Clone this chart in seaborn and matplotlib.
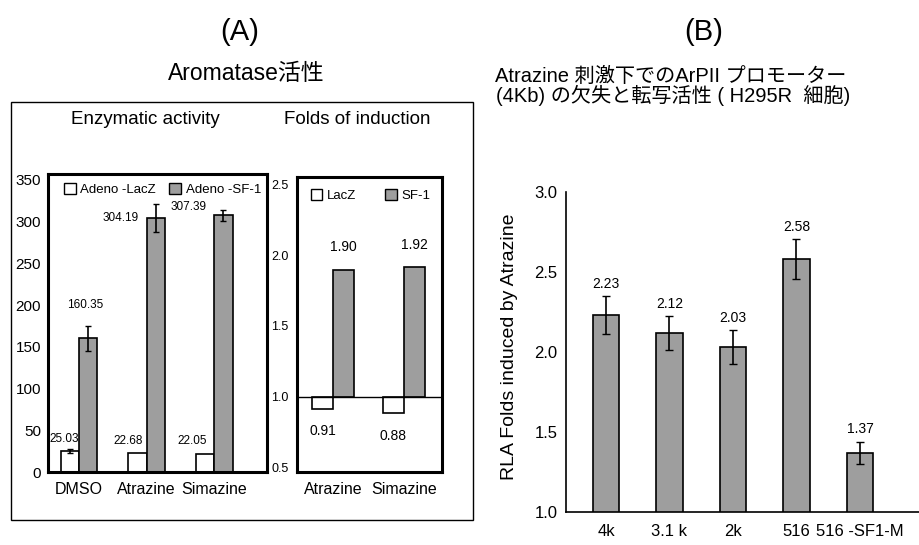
import pandas as pd
import matplotlib.pyplot as plt
import matplotlib.patches as mpatches
import seaborn as sns

# (A) left: aromatase enzymatic activity
treatments = ["DMSO", "Atrazine", "Simazine"]
vectors = ["Adeno -LacZ", "Adeno -SF-1"]
lacz_activity = [25.03, 22.68, 22.05]
sf1_activity = [160.35, 304.19, 307.39]
lacz_activity_err = [2.0, 0.0, 0.0]
sf1_activity_err = [15.0, 17.0, 7.0]

# (A) right: folds of induction
fold_treatments = ["Atrazine", "Simazine"]
fold_vectors = ["LacZ", "SF-1"]
lacz_fold = [0.91, 0.88]
sf1_fold = [1.90, 1.92]

# (B) deletion constructs of the ArPII promoter
constructs = ["4k", "3.1 k", "2k", "516", "516 -SF1-M"]
rla_folds = [2.23, 2.12, 2.03, 2.58, 1.37]
rla_err = [0.12, 0.105, 0.105, 0.125, 0.07]

GRAY = "#9e9e9e"
W, H = 919, 545

sns.set_style("white")
plt.rcParams["font.family"] = ["Liberation Sans", "Noto Sans CJK JP", "DejaVu Sans"]
for key in ["text.color", "axes.labelcolor", "xtick.color", "ytick.color"]:
    plt.rcParams[key] = "black"

fig = plt.figure(figsize=(W / 100, H / 100), dpi=100)


def px_axes(x0, y0, x1, y1):
    # pixel box (left, top, right, bottom) -> figure axes
    return fig.add_axes([x0 / W, 1 - y1 / H, (x1 - x0) / W, (y1 - y0) / H])


# ---------------- (A) enzymatic activity ----------------
act = pd.DataFrame({
    "treatment": treatments * 2,
    "vector": [vectors[0]] * len(treatments) + [vectors[1]] * len(treatments),
    "activity": lacz_activity + sf1_activity,
})
ax1 = px_axes(48, 174, 267, 472)
sns.barplot(data=act, x="treatment", y="activity", hue="vector", order=treatments,
            hue_order=vectors, palette=["white", GRAY], width=0.54,
            edgecolor="black", linewidth=1.2, errorbar=None, legend=False, ax=ax1)
ax1.set_xlim(-0.46, 2.78)
ax1.set_ylim(0, 357)
ax1.set_yticks(range(0, 351, 50))
ax1.set_xlabel("")
ax1.set_ylabel("")
ax1.tick_params(axis="both", length=0, labelsize=11.5)
ax1.tick_params(axis="x", pad=7)
ax1.tick_params(axis="y", pad=5, labelsize=11)
for s in ax1.spines.values():
    s.set_linewidth(2.2)
    s.set_color("black")

errs = lacz_activity_err + sf1_activity_err
# label placement (offset in points, alignment) for each bar
label_pos = [(-4, 9, "center"), (-7, 9, "center"), (-9, 9, "center"),
             (-2, 24, "center"), (-12, 0, "right"), (-12, 6, "right")]
for p, e, (dx, dy, ha) in zip(ax1.patches, errs, label_pos):
    xc = p.get_x() + p.get_width() / 2
    top = p.get_y() + p.get_height()
    if e > 0:
        ax1.errorbar(xc, top, yerr=e, fmt="none", ecolor="black", elinewidth=1.2, capsize=2.5)
    ax1.annotate(f"{top:.2f}", (xc, top), xytext=(dx, dy), textcoords="offset points",
                 ha=ha, va="center", fontsize=8.5)
ax1.legend(handles=[mpatches.Patch(facecolor=c, edgecolor="black", label=l)
                    for c, l in zip(["white", GRAY], vectors)],
           loc="upper left", bbox_to_anchor=(0.03, 1.0), ncol=2, frameon=False,
           fontsize=9.5, handlelength=0.9, handleheight=0.9, handletextpad=0.35,
           columnspacing=1.0, borderaxespad=0.3)

# ---------------- (A) folds of induction ----------------
fold = pd.DataFrame({
    "treatment": fold_treatments * 2,
    "vector": [fold_vectors[0]] * len(fold_treatments) + [fold_vectors[1]] * len(fold_treatments),
    "fold": lacz_fold + sf1_fold,
})
fold["delta"] = fold["fold"] - 1.0
ax2 = px_axes(297, 177, 442, 472)
sns.barplot(data=fold, x="treatment", y="delta", hue="vector", order=fold_treatments,
            hue_order=fold_vectors, palette=["white", GRAY], width=0.6, bottom=1.0,
            edgecolor="black", linewidth=1.2, errorbar=None, legend=False, ax=ax2)
ax2.axhline(1.0, color="black", linewidth=1.0)
ax2.set_xlim(-0.51, 1.54)
ax2.set_ylim(0.465, 2.556)
ax2.set_yticks([0.5, 1.0, 1.5, 2.0, 2.5])
ax2.set_yticklabels([f"{v:.1f}" for v in [0.5, 1.0, 1.5, 2.0, 2.5]])
ax2.set_xlabel("")
ax2.set_ylabel("")
ax2.tick_params(axis="x", length=0, pad=7, labelsize=11.5)
ax2.tick_params(axis="y", direction="in", length=5, width=1, pad=6, labelsize=9)
for s in ax2.spines.values():
    s.set_linewidth(2.2)
    s.set_color("black")
for p in ax2.patches:
    xc = p.get_x() + p.get_width() / 2
    end = p.get_y() + p.get_height()
    dy = 16 if end > 1.0 else -16
    ax2.annotate(f"{end:.2f}", (xc, end), xytext=(0, dy), textcoords="offset points",
                 ha="center", va="center", fontsize=10)
ax2.legend(handles=[mpatches.Patch(facecolor=c, edgecolor="black", label=l)
                    for c, l in zip(["white", GRAY], fold_vectors)],
           loc="upper left", bbox_to_anchor=(0.03, 0.99), ncol=2, frameon=False,
           fontsize=9.5, handlelength=0.9, handleheight=0.9, handletextpad=0.35,
           columnspacing=2.2, borderaxespad=0.3)

# outer frame and titles of panel A
fig.patches.append(mpatches.Rectangle((11 / W, 1 - 520 / H), 462 / W, 418 / H,
                                      transform=fig.transFigure, fill=False,
                                      edgecolor="black", linewidth=1.0))
fig.text(240 / W, 1 - 32 / H, "(A)", ha="center", va="center", fontsize=21)
fig.text(246 / W, 1 - 73 / H, "Aromatase活性", ha="center", va="center", fontsize=16.5)
fig.text(145 / W, 1 - 120 / H, "Enzymatic activity", ha="center", va="center", fontsize=13.5)
fig.text(357 / W, 1 - 120 / H, "Folds of induction", ha="center", va="center", fontsize=13.5)

# ---------------- (B) ----------------
axb = px_axes(566, 192, 919, 512)
sns.barplot(x=constructs, y=rla_folds, color=GRAY, width=0.42, edgecolor="black",
            linewidth=1.2, errorbar=None, ax=axb)
for p, e in zip(axb.patches, rla_err):
    xc = p.get_x() + p.get_width() / 2
    top = p.get_height()
    axb.errorbar(xc, top, yerr=e, fmt="none", ecolor="black", elinewidth=1.2, capsize=3)
    axb.annotate(f"{top:.2f}", (xc, top + e), xytext=(0, 9), textcoords="offset points",
                 ha="center", va="center", fontsize=10)
axb.set_xlim(-0.63, 4.93)
axb.set_ylim(1.0, 3.0)
axb.set_yticks([1.0, 1.5, 2.0, 2.5, 3.0])
axb.set_yticklabels([f"{v:.1f}" for v in [1.0, 1.5, 2.0, 2.5, 3.0]])
axb.tick_params(axis="y", direction="in", length=9, width=1.1, pad=6, labelsize=12)
axb.tick_params(axis="x", length=0, pad=9, labelsize=12)
sns.despine(ax=axb)
for side in ["left", "bottom"]:
    axb.spines[side].set_linewidth(1.2)
    axb.spines[side].set_color("black")
axb.set_ylabel("RLA Folds induced by Atrazine", fontsize=14)
axb.yaxis.set_label_coords(-0.135, 0.516)

fig.text(704 / W, 1 - 32 / H, "(B)", ha="center", va="center", fontsize=21)
fig.text(495 / W, 1 - 76 / H, "Atrazine 刺激下でのArPII プロモーター",
         ha="left", va="center", fontsize=14.5)
fig.text(496 / W, 1 - 95 / H, "(4Kb) の欠失と転写活性 ( H295R  細胞)",
         ha="left", va="center", fontsize=14.5)

fig.savefig("out.png", dpi=100)
